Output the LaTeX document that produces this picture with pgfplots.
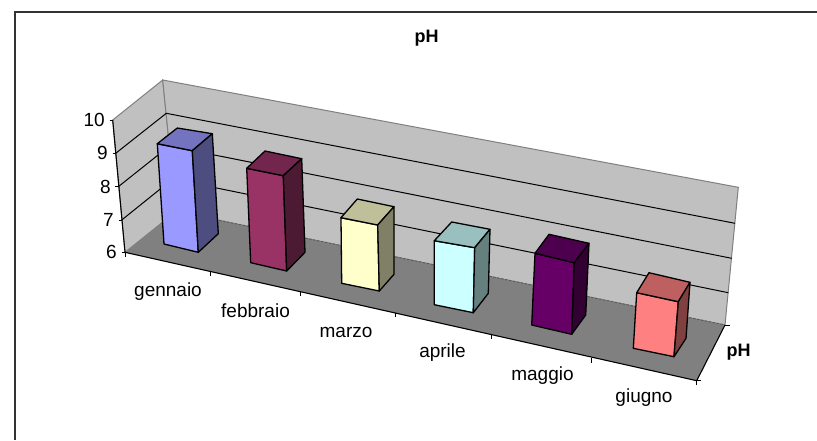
\documentclass[border=0pt]{standalone}
\usepackage{pgfplots}
\pgfplotsset{compat=1.18}
\usepackage{fontspec}
\setmainfont{Liberation Sans}

\definecolor{wall}{HTML}{C0C0C0}
\definecolor{floorc}{HTML}{808080}
% front, top and side of each box
\definecolor{aF}{HTML}{9999FF}\definecolor{aT}{HTML}{7373BF}\definecolor{aS}{HTML}{4D4D80}
\definecolor{bF}{HTML}{993366}\definecolor{bT}{HTML}{73264D}\definecolor{bS}{HTML}{4D1A33}
\definecolor{cF}{HTML}{FFFFCC}\definecolor{cT}{HTML}{BFBF99}\definecolor{cS}{HTML}{808066}
\definecolor{dF}{HTML}{CCFFFF}\definecolor{dT}{HTML}{99BFBF}\definecolor{dS}{HTML}{668080}
\definecolor{eF}{HTML}{660066}\definecolor{eT}{HTML}{4D004D}\definecolor{eS}{HTML}{330033}
\definecolor{fF}{HTML}{FF8080}\definecolor{fT}{HTML}{BF6060}\definecolor{fS}{HTML}{804040}

% front-top-left, front-top-right, front-bottom-right, front-bottom-left,
% back-top-left, back-top-right, back-bottom-right (picture pixels)
\def\phbar#1(#2)(#3)(#4)(#5)(#6)(#7)(#8);{%
  \addplot[fill=#1F,draw=black,line width=1.3pt,line join=round] coordinates {(#2) (#3) (#4) (#5)} --cycle;
  \addplot[fill=#1T,draw=black,line width=1.3pt,line join=round] coordinates {(#2) (#6) (#7) (#3)} --cycle;
  \addplot[fill=#1S,draw=black,line width=1.3pt,line join=round] coordinates {(#3) (#7) (#8) (#4)} --cycle;
}

\begin{document}
\begin{tikzpicture}[
  lab/.style={font=\fontsize{19}{22}\selectfont,inner sep=0pt},
  tit/.style={font=\fontsize{18}{21}\selectfont\bfseries,inner sep=0pt},
]
\begin{axis}[
  scale only axis, width=817pt, height=440pt,
  xmin=0, xmax=817, ymin=0, ymax=440, y dir=reverse,
  hide axis, clip=false,
]
\path[use as bounding box] (axis cs:0,0) rectangle (axis cs:817,440);

% chart frame, cut off at the image edge
\addplot[draw=black!80,line width=1.6pt] coordinates {(15,440) (15,12) (817,12)};

% walls and floor
\addplot[fill=wall,draw=floorc,line width=1pt] coordinates {(112.7,120) (162.7,80) (176,211.4) (125,252.3)} --cycle;
\addplot[fill=wall,draw=floorc,line width=1pt] coordinates {(162.7,80) (738.3,187.3) (725,325) (176,211.4)} --cycle;
\addplot[fill=floorc,draw=none] coordinates {(125,252.3) (176,211.4) (725,325) (696.7,380.7)} --cycle;
\addplot[draw=black!65,line width=0.9pt,dash pattern=on 2.5pt off 1.5pt] coordinates {(176,211.4) (725,325)};

% gridlines 9, 8, 7
\addplot[black,line width=1pt] coordinates {(115.7,153.3) (166.3,113.3) (735,223.3)};
\addplot[black,line width=1pt] coordinates {(118.3,186.7) (169.4,146) (731.7,258.3)};
\addplot[black,line width=1pt] coordinates {(121.7,220) (172.7,179) (728.3,292.7)};

% axis lines
\addplot[black,line width=1.1pt] coordinates {(112.7,120) (125,252.3) (696.7,380.7) (725,325)};

% value ticks
\addplot[black,line width=1pt] coordinates {(109.5,120) (112.7,120)};
\addplot[black,line width=1pt] coordinates {(112.5,153.3) (115.7,153.3)};
\addplot[black,line width=1pt] coordinates {(115.1,186.7) (118.3,186.7)};
\addplot[black,line width=1pt] coordinates {(118.5,220) (121.7,220)};
\addplot[black,line width=1pt] coordinates {(121.8,252.3) (125,252.3)};
% category ticks
\addplot[black,line width=1pt] coordinates {(125,252.3) (125,257)};
\addplot[black,line width=1pt] coordinates {(210.7,271.7) (210.7,276)};
\addplot[black,line width=1pt] coordinates {(300,291.7) (300,296)};
\addplot[black,line width=1pt] coordinates {(395,312.7) (395,317)};
\addplot[black,line width=1pt] coordinates {(491.7,335) (491.7,339)};
\addplot[black,line width=1pt] coordinates {(591.7,358.3) (591.7,362.5)};
\addplot[black,line width=1pt] coordinates {(696.7,380.7) (696.7,385)};
% depth ticks
\addplot[black,line width=1pt] coordinates {(725,325.5) (729.5,325.5)};
\addplot[black,line width=1pt] coordinates {(696.7,380.7) (701,380.7)};

% bars
\phbar a(157.3,143.7)(192.3,150.7)(198.3,252.3)(164,244)(177.3,128)(212.3,133.7)(218.3,233.7);
\phbar b(246.7,168.3)(283.3,175.7)(286.7,271)(250.7,262.7)(265,151)(301.7,158.7)(305,252.3);
\phbar c(341,217.7)(377.7,225)(379.3,291)(341.7,283.3)(357.3,199)(394,206.7)(394,274.3);
\phbar d(434.3,240.7)(474.7,247.7)(473.3,312.7)(434.3,304.7)(451.7,222)(490,229.3)(488.3,293.3);
\phbar e(535,253.3)(574.3,262.7)(571.7,334.3)(531.7,325)(549,234.3)(589,243.3)(585.7,315);
\phbar f(636.7,292.7)(678.3,301.7)(674,356.7)(633.3,348.3)(649,272.7)(690,282.3)(686,338.3);

% text
\node[tit] at (axis cs:426.5,38.5) {pH};
\node[tit] at (axis cs:738.5,352.5) {pH};
\node[lab,anchor=east] at (axis cs:105,120) {10};
\node[lab,anchor=east] at (axis cs:108,153.3) {9};
\node[lab,anchor=east] at (axis cs:111,186.7) {8};
\node[lab,anchor=east] at (axis cs:114,219.5) {7};
\node[lab,anchor=east] at (axis cs:117,252.3) {6};
\node[lab] at (axis cs:168,291.5) {gennaio};
\node[lab] at (axis cs:255.5,311) {febbraio};
\node[lab] at (axis cs:346,332) {marzo};
\node[lab] at (axis cs:442.5,353) {aprile};
\node[lab] at (axis cs:542.5,375.5) {maggio};
\node[lab] at (axis cs:644,398) {giugno};
\end{axis}
\end{tikzpicture}
\end{document}
